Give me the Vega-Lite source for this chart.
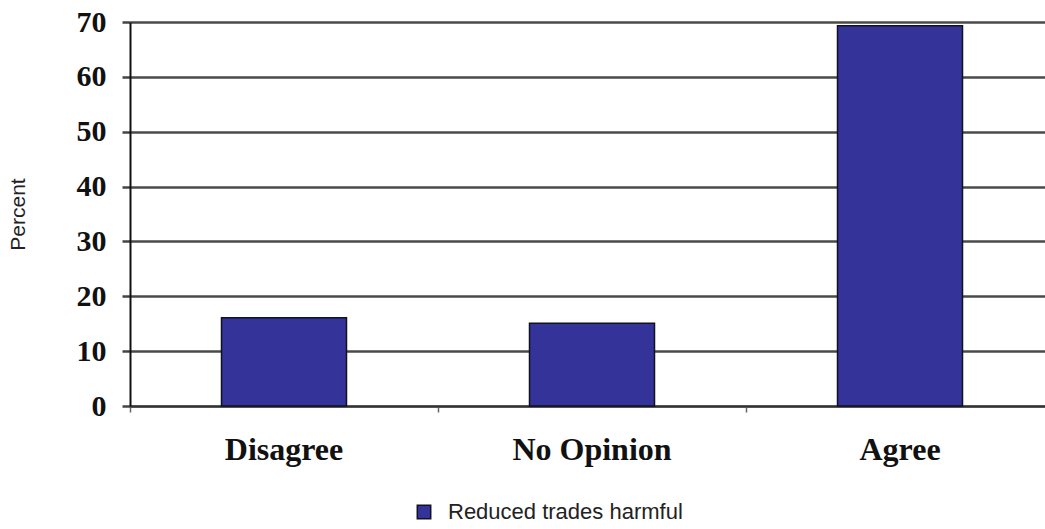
{
  "$schema": "https://vega.github.io/schema/vega-lite/v6.json",
  "autosize": "none",
  "width": 915,
  "height": 384,
  "padding": {"left": 130, "top": 22, "right": 0, "bottom": 123},
  "background": "white",
  "data": {
    "values": [
      {"response": "Disagree", "percent": 16.1, "series": "Reduced trades harmful"},
      {"response": "No Opinion", "percent": 15.1, "series": "Reduced trades harmful"},
      {"response": "Agree", "percent": 69.3, "series": "Reduced trades harmful"}
    ]
  },
  "mark": {"type": "bar", "size": 125, "stroke": "#111122", "strokeWidth": 1.5},
  "encoding": {
    "x": {
      "field": "response",
      "type": "nominal",
      "sort": ["Disagree", "No Opinion", "Agree"],
      "scale": {"paddingInner": 0, "paddingOuter": 0, "range": [0, 924]},
      "axis": {
        "title": null,
        "labelAngle": 0,
        "labelFont": "Liberation Serif",
        "labelFontWeight": "bold",
        "labelFontSize": 32,
        "labelColor": "#111",
        "labelPadding": 22,
        "bandPosition": 0,
        "domain": true,
        "domainColor": "#333",
        "domainWidth": 2,
        "ticks": true,
        "tickColor": "#666",
        "tickSize": 6,
        "tickWidth": 1.5,
        "grid": false
      }
    },
    "y": {
      "field": "percent",
      "type": "quantitative",
      "scale": {"domain": [0, 70], "nice": false},
      "axis": {
        "title": "Percent",
        "titleFont": "Liberation Sans",
        "titleFontWeight": "normal",
        "titleFontSize": 21,
        "titleColor": "#222",
        "titleX": -112,
        "titleY": 192,
        "titleBaseline": "middle",
        "values": [0, 10, 20, 30, 40, 50, 60, 70],
        "labelFont": "Liberation Serif",
        "labelFontWeight": "bold",
        "labelFontSize": 30,
        "labelColor": "#111",
        "labelPadding": 16,
        "domain": true,
        "domainColor": "#111",
        "domainWidth": 2,
        "ticks": true,
        "tickColor": "#444",
        "tickSize": 8,
        "tickWidth": 2.5,
        "grid": true,
        "gridColor": "#4a4a4a",
        "gridWidth": 2.5,
        "gridOpacity": 1
      }
    },
    "color": {
      "field": "series",
      "type": "nominal",
      "scale": {"range": ["#333399"]},
      "legend": {
        "title": null,
        "orient": "none",
        "legendX": 283,
        "legendY": 479,
        "padding": 0,
        "symbolType": "square",
        "symbolSize": 180,
        "symbolStrokeColor": "#111122",
        "symbolStrokeWidth": 1.5,
        "labelFont": "Liberation Sans",
        "labelFontSize": 22,
        "labelColor": "#222",
        "labelOffset": 13,
        "labelLimit": 0
      }
    }
  },
  "config": {"view": {"stroke": null}}
}
